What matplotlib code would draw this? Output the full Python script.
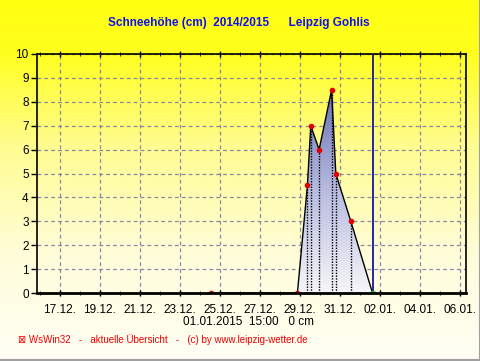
import numpy as np
import matplotlib
matplotlib.use("Agg")
import matplotlib.pyplot as plt
import matplotlib.dates as mdates
from matplotlib.colors import LinearSegmentedColormap
from datetime import datetime

plt.rcParams['font.family'] = ['Liberation Sans', 'DejaVu Sans']

# snow depth readings (cm)
times = ["2014-12-24 13:00", "2014-12-28 21:00", "2014-12-29 09:00", "2014-12-29 13:00",
         "2014-12-29 23:00", "2014-12-30 14:00", "2014-12-30 19:00", "2014-12-31 13:00",
         "2015-01-01 15:00"]
depth = [0, 0, 4.5, 7, 6, 8.5, 5, 3, 0]
tick_days = ["2014-12-17", "2014-12-19", "2014-12-21", "2014-12-23", "2014-12-25", "2014-12-27",
             "2014-12-29", "2014-12-31", "2015-01-02", "2015-01-04", "2015-01-06"]
x_start = "2014-12-15 21:00"
x_end = "2015-01-06 07:00"
now = "2015-01-01 15:00"

t = [mdates.date2num(datetime.strptime(s, "%Y-%m-%d %H:%M")) for s in times]
ticks = [mdates.date2num(datetime.strptime(s, "%Y-%m-%d")) for s in tick_days]
x0 = mdates.date2num(datetime.strptime(x_start, "%Y-%m-%d %H:%M"))
x1 = mdates.date2num(datetime.strptime(x_end, "%Y-%m-%d %H:%M"))
tnow = mdates.date2num(datetime.strptime(now, "%Y-%m-%d %H:%M"))

W, H = 481, 361
fig = plt.figure(figsize=(W/100, H/100), dpi=100)

# background gradient (bottom -> top)
bg = fig.add_axes([0, 0, 1, 1])
bg.set_axis_off()
bgcm = LinearSegmentedColormap.from_list(
    "bg", [(0, "#fffff6"), (0.3, "#fffdd8"), (0.6, "#fffc90"), (0.85, "#ffff20"), (1, "#ffff10")])
grad = np.linspace(0, 1, 256).reshape(-1, 1)
bg.imshow(grad, aspect="auto", cmap=bgcm, origin="lower", extent=[0, 1, 0, 1])
bg.plot([0, 0.997, 0.997], [0.004, 0.004, 1], color="#a0a0a0", lw=1.5)
bg.set_xlim(0, 1)
bg.set_ylim(0, 1)

L, R, T, B = 37, 466, 54, 293
ax = fig.add_axes([L/W, 1 - B/H, (R-L)/W, (B-T)/H])
ax.patch.set_alpha(0)

# gradient fill under curve
fillcm = LinearSegmentedColormap.from_list("fill", ["#f6f6f8", "#b8bce0", "#6870b0"])
poly = ax.fill_between(t, depth, 0, color="none")
img = ax.imshow(np.linspace(0, 1, 256).reshape(-1, 1), aspect="auto", cmap=fillcm,
                origin="lower", extent=[x0, x1, 0, max(depth)], zorder=2)
img.set_clip_path(poly.get_paths()[0], transform=ax.transData)
ax.set_xlim(x0, x1)
ax.set_ylim(0, 10)

for xi, yi in zip(t[2:-1], depth[2:-1]):
    ax.plot([xi, xi], [0, yi], ls=(0, (1, 1)), color="black", lw=1, zorder=3)

ax.plot(t, depth, color="black", lw=1, zorder=4)
ax.plot(t[:-1], depth[:-1], "o", color="#e00000", ms=3, zorder=5)
ax.plot(t[-1], depth[-1], "o", color="#20c020", ms=3, zorder=5)
ax.axvline(tnow, color="#0000a0", lw=1.2, zorder=4)

ax.grid(True, color="#7474a4", ls=(0, (3, 2.5)), lw=0.9, alpha=0.85, zorder=2.5)
ax.set_yticks(range(0, 11))
ax.set_xticks(ticks)
ax.xaxis.set_major_formatter(mdates.DateFormatter("%d.%m."))
ax.xaxis.set_minor_locator(mdates.DayLocator())
ax.tick_params(axis="both", which="major", length=4, labelsize=8.5, colors="black", width=1)
ax.tick_params(axis="x", which="minor", length=3, direction="inout", bottom=True, top=True)
ax.tick_params(axis="x", which="major", pad=6, top=True, direction="inout")
ax.tick_params(axis="y", which="major", pad=2)
for s in ax.spines.values():
    s.set_linewidth(1.2)
    s.set_zorder(6)
ax.spines["bottom"].set_linewidth(2)

fig.text(239/W, 1 - 23/H, "Schneehöhe (cm)  2014/2015      Leipzig Gohlis", color="#1010f0",
         fontsize=8.5, fontweight="bold", ha="center", va="center")
fig.text(249/W, 1 - 322/H, "01.01.2015  15:00   0 cm", fontsize=8.5, ha="center", va="center")
fig.text(18/W, 1 - 340/H, "\u22a0 WsWin32   -   aktuelle Übersicht   -   (c) by www.leipzig-wetter.de",
         color="#f00000", fontsize=7, ha="left", va="center")

fig.savefig("out.png", dpi=100)
